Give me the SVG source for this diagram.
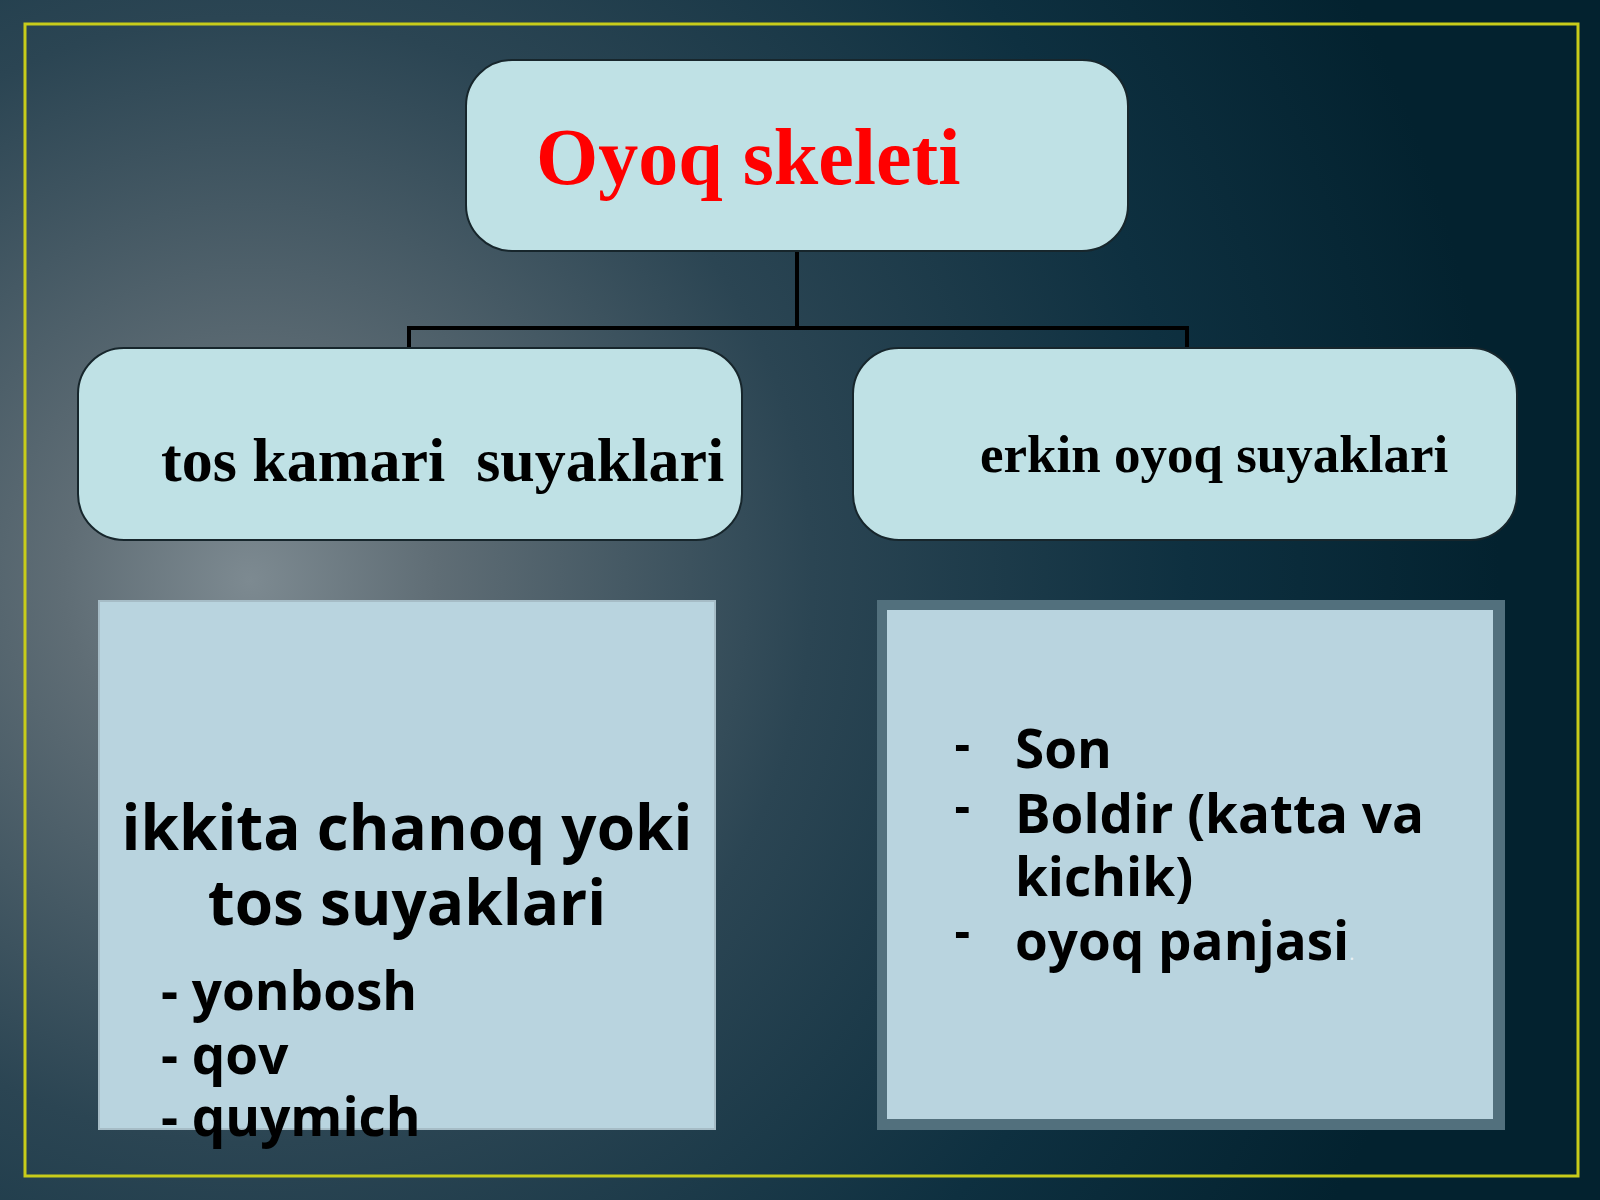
<svg xmlns="http://www.w3.org/2000/svg" width="1600" height="1200" viewBox="0 0 1600 1200">
<defs>
<radialGradient id="bg" cx="250" cy="580" r="1250" gradientUnits="userSpaceOnUse">
<stop offset="0" stop-color="#7d8a91"/>
<stop offset="0.15" stop-color="#5f6d75"/>
<stop offset="0.45" stop-color="#2b4553"/>
<stop offset="0.75" stop-color="#0e3040"/>
<stop offset="1" stop-color="#03222f"/>
</radialGradient>
<style>
.rbox{fill:#bfe1e5;stroke:#17262c;stroke-width:2}
.sq{fill:#b9d4df}
.conn{fill:none;stroke:#000;stroke-width:4}
.serif{font-family:"Liberation Serif","Times New Roman",serif;font-weight:bold}
.sans{font-family:"Open Sans","Noto Sans",sans-serif;font-weight:bold;fill:#000}
.dash{font-family:"Liberation Sans",Arial,sans-serif;font-size:50px;font-weight:bold;fill:#000}
</style>
</defs>
<rect x="0" y="0" width="1600" height="1200" fill="url(#bg)"/>
<rect x="25" y="24" width="1553" height="1152" fill="none" stroke="#c8cc1a" stroke-width="3"/>

<g id="connectors">
<path class="conn" d="M797 251 V328 M409 349 V328 H1187 V349"/>
</g>

<g id="root">
<rect class="rbox" x="466" y="60" width="662" height="191" rx="46"/>
<text class="serif" x="536" y="184" font-size="80" fill="#ff0000">Oyoq skeleti</text>
</g>

<g id="tos">
<rect class="rbox" x="78" y="348" width="664" height="192" rx="46"/>
<text class="serif" x="161" y="481" font-size="62" fill="#000">tos kamari&#160; suyaklari</text>
</g>

<g id="erkin">
<rect class="rbox" x="853" y="348" width="664" height="192" rx="46"/>
<text class="serif" x="980" y="472" font-size="53" fill="#000">erkin oyoq suyaklari</text>
</g>

<g id="tos-list">
<rect class="sq" x="99" y="601" width="616" height="528" stroke="#a6bcc6" stroke-width="2"/>
<text class="sans" x="407" y="850" font-size="62" text-anchor="middle">ikkita chanoq yoki</text>
<text class="sans" x="407" y="925" font-size="62" text-anchor="middle">tos suyaklari</text>
<text class="sans" x="161" y="1010" font-size="53">- yonbosh</text>
<text class="sans" x="161" y="1074" font-size="53">- qov</text>
<text class="sans" x="161" y="1136" font-size="53">- quymich</text>
</g>

<g id="erkin-list">
<rect x="877" y="600" width="628" height="530" fill="#52707d"/>
<rect class="sq" x="887" y="610" width="606" height="509"/>
<text class="dash" x="954" y="761">-</text>
<text class="dash" x="954" y="823">-</text>
<text class="dash" x="954" y="948">-</text>
<text class="sans" x="1015" y="768" font-size="53">Son</text>
<text class="sans" x="1015" y="833" font-size="53">Boldir (katta va</text>
<text class="sans" x="1015" y="896" font-size="53">kichik)</text>
<text class="sans" x="1015" y="960" font-size="53">oyoq panjasi<tspan fill="#e8f0f4" font-size="20" font-weight="normal">.</tspan></text>
</g>
</svg>
